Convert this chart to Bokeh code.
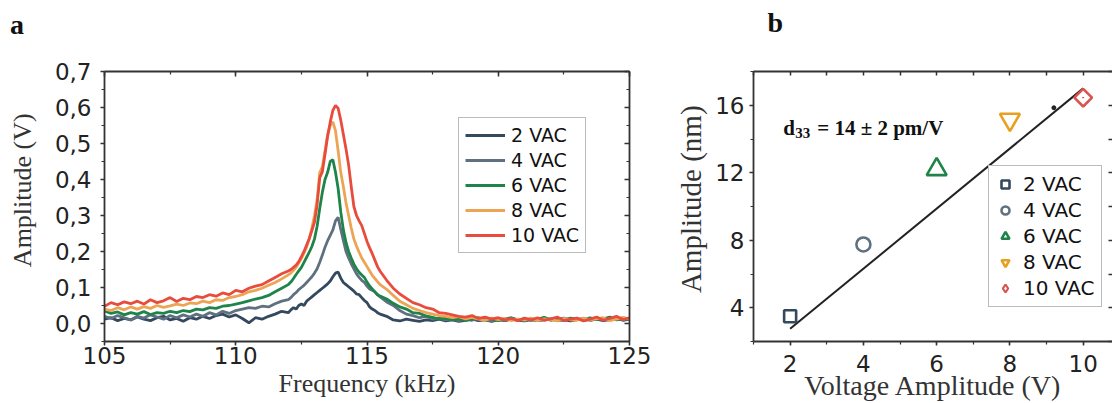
from bokeh.plotting import figure
from bokeh.models import (LinearAxis, FixedTicker, CustomJSTickFormatter, Range1d, Label,
                          LegendItem, Legend)
from bokeh.layouts import row
from bokeh.embed import file_html
from bokeh.resources import INLINE
from bokeh.core.properties import value

# ---------------- data : panel a ----------------
f_low = [105.0, 105.25, 105.5, 105.75, 106.0, 106.25, 106.5, 106.75, 107.0, 107.25,
         107.5, 107.75, 108.0, 108.25, 108.5, 108.75, 109.0, 109.25, 109.5, 109.75,
         110.0, 110.25, 110.5, 110.75, 111.0, 111.25, 111.5, 111.75, 112.0]
f_mid = [112.1, 112.2, 112.3, 112.4, 112.5, 112.6, 112.7, 112.8, 112.9, 113.0,
         113.1, 113.2, 113.3, 113.4, 113.5, 113.6, 113.7, 113.8, 113.9, 114.0,
         114.1, 114.2, 114.3, 114.4, 114.5, 114.6, 114.7, 114.8, 114.9, 115.0,
         115.1, 115.2, 115.3, 115.4, 115.5]
f_high = [115.75, 116.0, 116.25, 116.5, 116.75, 117.0, 117.25, 117.5, 117.75, 118.0,
          118.25, 118.5, 118.75, 119.0, 119.25, 119.5, 119.75, 120.0, 120.25, 120.5,
          120.75, 121.0, 121.25, 121.5, 121.75, 122.0, 122.25, 122.5, 122.75, 123.0,
          123.25, 123.5, 123.75, 124.0, 124.25, 124.5, 124.75, 125.0]
freq = f_low + f_mid + f_high

amp_2 = [0.012, 0.016, 0.008, 0.014, 0.010, 0.018, 0.012, 0.008, 0.016, 0.020,
         0.010, 0.014, 0.006, 0.016, 0.012, 0.020, 0.014, 0.022, 0.026, 0.018,
         0.024, 0.014, 0.002, 0.016, 0.012, 0.020, 0.026, 0.034, 0.030,
         0.038, 0.044, 0.040, 0.050, 0.054, 0.050, 0.062, 0.068, 0.074, 0.080,
         0.086, 0.092, 0.098, 0.104, 0.110, 0.118, 0.130, 0.140, 0.143, 0.126,
         0.114, 0.108, 0.102, 0.096, 0.090, 0.082, 0.080, 0.072, 0.064, 0.058,
         0.046, 0.040, 0.036, 0.030, 0.026,
         0.020, 0.010, 0.007, 0.012, 0.009, 0.006, 0.010, 0.008, 0.012, 0.007,
         0.010, 0.006, 0.009, 0.012, 0.008, 0.010, 0.006, 0.011, 0.008, 0.012,
         0.009, 0.007, 0.011, 0.008, 0.010, 0.013, 0.008, 0.010, 0.007, 0.011,
         0.014, 0.009, 0.012, 0.008, 0.011, 0.014, 0.009, 0.012]
amp_4 = [0.020, 0.014, 0.022, 0.016, 0.010, 0.020, 0.015, 0.024, 0.018, 0.012,
         0.022, 0.016, 0.024, 0.018, 0.026, 0.020, 0.030, 0.024, 0.034, 0.028,
         0.036, 0.040, 0.044, 0.042, 0.048, 0.046, 0.055, 0.062, 0.066,
         0.072, 0.080, 0.086, 0.094, 0.100, 0.106, 0.114, 0.122, 0.130, 0.140,
         0.152, 0.170, 0.190, 0.212, 0.230, 0.245, 0.260, 0.285, 0.295, 0.262,
         0.230, 0.200, 0.182, 0.166, 0.152, 0.138, 0.128, 0.120, 0.114, 0.104,
         0.096, 0.092, 0.088, 0.080, 0.074,
         0.060, 0.050, 0.036, 0.026, 0.022, 0.016, 0.020, 0.012, 0.015, 0.010,
         0.013, 0.008, 0.012, 0.009, 0.014, 0.010, 0.007, 0.012, 0.009, 0.013,
         0.010, 0.008, 0.012, 0.010, 0.014, 0.009, 0.012, 0.015, 0.010, 0.013,
         0.009, 0.011, 0.014, 0.010, 0.012, 0.015, 0.010, 0.013]
amp_6 = [0.035, 0.028, 0.032, 0.024, 0.030, 0.026, 0.033, 0.025, 0.030, 0.028,
         0.034, 0.030, 0.036, 0.033, 0.040, 0.038, 0.044, 0.042, 0.048, 0.050,
         0.054, 0.058, 0.063, 0.068, 0.072, 0.078, 0.088, 0.098, 0.108,
         0.115, 0.125, 0.136, 0.146, 0.156, 0.170, 0.184, 0.198, 0.214, 0.235,
         0.270, 0.320, 0.365, 0.400, 0.420, 0.450, 0.455, 0.420, 0.375, 0.310,
         0.260, 0.225, 0.200, 0.182, 0.165, 0.152, 0.142, 0.135, 0.128, 0.115,
         0.104, 0.096, 0.088, 0.080, 0.076,
         0.068, 0.056, 0.046, 0.040, 0.030, 0.028, 0.021, 0.017, 0.012, 0.015,
         0.010, 0.013, 0.009, 0.012, 0.016, 0.010, 0.013, 0.008, 0.012, 0.016,
         0.010, 0.013, 0.009, 0.012, 0.017, 0.010, 0.013, 0.009, 0.015, 0.012,
         0.010, 0.016, 0.011, 0.013, 0.018, 0.010, 0.014, 0.011]
amp_8 = [0.040, 0.036, 0.044, 0.038, 0.046, 0.040, 0.047, 0.042, 0.050, 0.045,
         0.049, 0.054, 0.050, 0.057, 0.055, 0.062, 0.058, 0.066, 0.064, 0.072,
         0.075, 0.080, 0.088, 0.092, 0.098, 0.106, 0.114, 0.124, 0.135,
         0.140, 0.148, 0.156, 0.168, 0.180, 0.196, 0.212, 0.235, 0.265, 0.300,
         0.345, 0.420, 0.435, 0.480, 0.525, 0.550, 0.560, 0.535, 0.480, 0.420,
         0.380, 0.335, 0.300, 0.265, 0.235, 0.215, 0.198, 0.182, 0.170, 0.158,
         0.146, 0.134, 0.125, 0.116, 0.108,
         0.095, 0.078, 0.062, 0.052, 0.042, 0.036, 0.030, 0.026, 0.022, 0.020,
         0.016, 0.019, 0.013, 0.017, 0.012, 0.009, 0.015, 0.011, 0.014, 0.008,
         0.012, 0.010, 0.015, 0.008, 0.013, 0.011, 0.007, 0.014, 0.010, 0.009,
         0.015, 0.010, 0.013, 0.016, 0.008, 0.012, 0.017, 0.012]
amp_10 = [0.048, 0.058, 0.052, 0.060, 0.055, 0.062, 0.054, 0.066, 0.058, 0.063,
          0.072, 0.061, 0.070, 0.066, 0.075, 0.072, 0.080, 0.076, 0.085, 0.080,
          0.092, 0.088, 0.098, 0.104, 0.108, 0.118, 0.128, 0.138, 0.146,
          0.150, 0.156, 0.162, 0.172, 0.186, 0.200, 0.218, 0.236, 0.258, 0.282,
          0.330, 0.405, 0.422, 0.470, 0.520, 0.560, 0.592, 0.606, 0.598, 0.565,
          0.525, 0.485, 0.440, 0.380, 0.325, 0.300, 0.285, 0.272, 0.250, 0.228,
          0.210, 0.194, 0.176, 0.158, 0.145,
          0.120, 0.098, 0.082, 0.070, 0.058, 0.052, 0.044, 0.040, 0.030, 0.028,
          0.024, 0.020, 0.018, 0.022, 0.014, 0.018, 0.012, 0.016, 0.010, 0.014,
          0.008, 0.015, 0.010, 0.016, 0.009, 0.013, 0.018, 0.008, 0.012, 0.015,
          0.007, 0.012, 0.018, 0.009, 0.014, 0.020, 0.011, 0.016]

series_labels = ["2 VAC", "4 VAC", "6 VAC", "8 VAC", "10 VAC"]
series_amps = [amp_2, amp_4, amp_6, amp_8, amp_10]
line_colors = ["#34495e", "#5f7080", "#1e8449", "#eda455", "#e74c3c"]

a_xticks = [105, 110, 115, 120, 125]
a_xminor = [105, 107.5, 110, 112.5, 115, 117.5, 120, 122.5, 125]
a_yticks = [0.0, 0.1, 0.2, 0.3, 0.4, 0.5, 0.6, 0.7]
a_yminor = [-0.05, 0.0, 0.05, 0.1, 0.15, 0.2, 0.25, 0.3, 0.35, 0.4, 0.45, 0.5, 0.55, 0.6, 0.65, 0.7]

# ---------------- data : panel b ----------------
voltage = [2, 4, 6, 8, 10]
amp_nm = [3.5, 7.75, 12.2, 15.15, 16.45]
markers = ["square", "circle", "triangle", "inverted_triangle", "square"]
legend_markers = ["square", "circle", "triangle", "inverted_triangle", "diamond"]
marker_sizes = [12, 14, 20, 20, 12.5]
marker_angles = [0, 0, 0, 0, 0.7853981634]
marker_colors = ["#34495e", "#5f7080", "#1e8449", "#e8a020", "#d9534f"]
fit_v = [2, 10]
fit_nm = [2.75, 17.0]
fit_mark_v = [9.2]
fit_mark_nm = [15.85]

b_xticks = [2, 4, 6, 8, 10]
b_xminor = [1, 2, 3, 4, 5, 6, 7, 8, 9, 10]
b_yticks = [4, 8, 12, 16]
b_yminor = [2, 4, 6, 8, 10, 12, 14, 16, 18]

SANS = "DejaVu Sans"
SERIF = "Liberation Serif"
AX = "#333333"
NB = "\u00a0"


def style_axis(ax, labels=True, inward=False):
    ax.axis_line_color = AX
    ax.axis_line_width = 1.8
    ax.major_tick_line_color = AX
    ax.minor_tick_line_color = AX
    ax.major_tick_line_width = 1.5
    ax.minor_tick_line_width = 1.2
    if inward:
        ax.major_tick_in, ax.major_tick_out = 5, 0
        ax.minor_tick_in, ax.minor_tick_out = 3, 0
    else:
        ax.major_tick_in, ax.major_tick_out = 0, 4
        ax.minor_tick_in, ax.minor_tick_out = 0, 3
    if labels:
        ax.major_label_text_font = SANS
        ax.major_label_text_font_size = "23px"
        ax.major_label_text_color = "#222222"
        ax.axis_label_text_font = SERIF
        ax.axis_label_text_font_size = "26px"
        ax.axis_label_text_font_style = "normal"
        ax.axis_label_text_color = "#333333"
    else:
        ax.major_label_text_font_size = "1px"
        ax.major_label_text_color = None
        ax.major_label_standoff = 0


comma = CustomJSTickFormatter(code="return tick.toFixed(1).replace('.', ',');")

# ---------------- panel a ----------------
pa = figure(width=658, height=403, output_backend="svg", toolbar_location=None,
            x_range=Range1d(105, 125), y_range=Range1d(-0.05, 0.7),
            min_border_left=104, min_border_right=29, min_border_top=66, min_border_bottom=61)
pa.grid.visible = False
pa.outline_line_color = None
pa.background_fill_color = "white"
pa.border_fill_color = "white"

pa.xaxis.ticker = FixedTicker(ticks=a_xticks, minor_ticks=a_xminor)
pa.yaxis.ticker = FixedTicker(ticks=a_yticks, minor_ticks=a_yminor)
pa.yaxis.formatter = comma
style_axis(pa.xaxis[0])
style_axis(pa.yaxis[0])
pa.xaxis.axis_label = "Frequency (kHz)"
pa.yaxis.axis_label = NB * 5 + "Amplitude (V)"
pa.xaxis.major_label_standoff = 1
pa.xaxis.axis_label_standoff = 2
pa.yaxis.major_label_standoff = 9
pa.yaxis.axis_label_standoff = 15

top_a = LinearAxis(ticker=FixedTicker(ticks=a_xticks, minor_ticks=a_xminor))
style_axis(top_a, labels=False, inward=True)
pa.add_layout(top_a, "above")
right_a = LinearAxis(ticker=FixedTicker(ticks=a_yticks, minor_ticks=a_yminor))
style_axis(right_a, labels=False, inward=True)
pa.add_layout(right_a, "right")

for lab, amps, col in zip(series_labels, series_amps, line_colors):
    pa.line(freq, amps, line_color=col, line_width=2.8, legend_label=lab)

pa.legend.location = (354, 88)
pa.legend.glyph_width = 40
pa.legend.glyph_height = 22
pa.legend.label_height = 22
pa.legend.spacing = 3
pa.legend.padding = 6
pa.legend.margin = 0
pa.legend.label_standoff = 6
pa.legend.label_text_font = SANS
pa.legend.label_text_font_size = "19px"
pa.legend.label_text_color = "#111111"
pa.legend.border_line_color = "#777777"
pa.legend.border_line_width = 1.2
pa.legend.background_fill_alpha = 1.0

pa.add_layout(Label(x=101.4, y=0.8295, text="a", text_font=SERIF, text_font_style="bold",
                    text_font_size="28px", text_color="#111111", text_align="left",
                    text_baseline="alphabetic"), "above")

# ---------------- panel b ----------------
pb = figure(width=454, height=403, output_backend="svg", toolbar_location=None,
            x_range=Range1d(1, 10.8), y_range=Range1d(2, 18),
            min_border_left=95, min_border_right=0, min_border_top=71, min_border_bottom=60)
pb.grid.visible = False
pb.outline_line_color = None
pb.background_fill_color = "white"
pb.border_fill_color = "white"

pb.xaxis.ticker = FixedTicker(ticks=b_xticks, minor_ticks=b_xminor)
pb.yaxis.ticker = FixedTicker(ticks=b_yticks, minor_ticks=b_yminor)
style_axis(pb.xaxis[0])
style_axis(pb.yaxis[0])
pb.xaxis.axis_label = "Voltage Amplitude (V)"
pb.yaxis.axis_label = NB * 2 + "Amplitude (nm)"
pb.xaxis.axis_label_text_font_size = "28px"
pb.yaxis.axis_label_text_font_size = "29px"
pb.xaxis.major_label_standoff = 9
pb.xaxis.axis_label_standoff = -5
pb.yaxis.major_label_standoff = 5
pb.yaxis.axis_label_standoff = 5

top_b = LinearAxis(ticker=FixedTicker(ticks=b_xminor, minor_ticks=[]))
style_axis(top_b, labels=False, inward=True)
top_b.major_tick_in = 4
pb.add_layout(top_b, "above")
right_b = LinearAxis(ticker=FixedTicker(ticks=b_yminor, minor_ticks=[]))
style_axis(right_b, labels=False, inward=True)
right_b.axis_line_color = None
right_b.major_tick_in = 4
pb.add_layout(right_b, "right")

pb.line(fit_v, fit_nm, line_color="#222222", line_width=2)
pb.scatter(fit_mark_v, fit_mark_nm, size=4, color="#222222")

b_items = []
for i in range(len(voltage)):
    shown = pb.scatter([voltage[i]], [amp_nm[i]], marker=markers[i], size=marker_sizes[i],
                       angle=marker_angles[i], fill_color=None, line_color=marker_colors[i],
                       line_width=2.6)
    if legend_markers[i] != markers[i]:
        # legend swatch of the same point (tiny in the plot, full size in the legend)
        swatch = pb.scatter([voltage[i]], [amp_nm[i]], marker=legend_markers[i], size=0.1,
                            fill_color=None, line_color=marker_colors[i], line_width=2.2)
        b_items.append(LegendItem(label=series_labels[i], renderers=[swatch]))
    else:
        b_items.append(LegendItem(label=series_labels[i], renderers=[shown]))

pb.text(x=[1.81], y=[14.63], text=["d"], text_font=value(SERIF), text_font_style="bold",
        text_font_size="21px", text_baseline="alphabetic", text_color="#111111")
pb.text(x=[1.81], y=[14.63], text=["33"], x_offset=12, y_offset=5, text_font=value(SERIF),
        text_font_style="bold", text_font_size="15px", text_baseline="alphabetic",
        text_color="#111111")
pb.text(x=[1.81], y=[14.63], text=["= 14 ± 2 pm/V"], x_offset=34, text_font=value(SERIF),
        text_font_style="bold", text_font_size="21px", text_baseline="alphabetic",
        text_color="#111111")

leg_b = Legend(items=b_items, location=(235, 34))
pb.add_layout(leg_b)
leg_b.glyph_width = 20
leg_b.glyph_height = 22
leg_b.label_height = 22
leg_b.spacing = 2
leg_b.padding = 6
leg_b.margin = 0
leg_b.label_standoff = 8
leg_b.label_text_font = SANS
leg_b.label_text_font_size = "20px"
leg_b.label_text_color = "#111111"
leg_b.border_line_color = "#777777"
leg_b.border_line_width = 1.2
leg_b.background_fill_alpha = 1.0

pb.add_layout(Label(x=1.385, y=20.89, text="b", text_font=SERIF, text_font_style="bold",
                    text_font_size="28px", text_color="#111111", text_align="left",
                    text_baseline="alphabetic"), "above")

layout = row(pa, pb)
open("out.html", "w").write(file_html(layout, INLINE))
